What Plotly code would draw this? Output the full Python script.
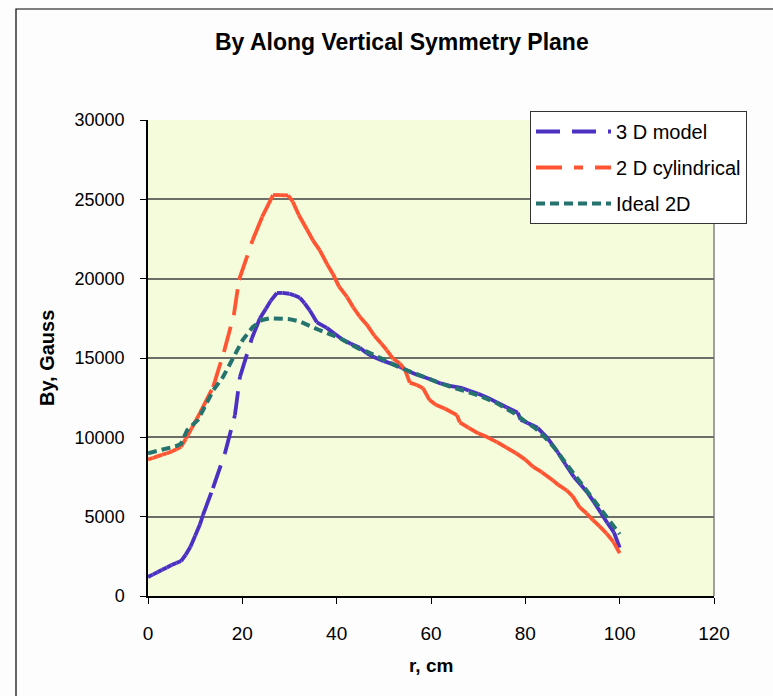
import plotly.graph_objects as go

# r in cm, By in Gauss
r_3d = [0, 1, 2, 3, 4, 5, 6, 7, 8, 9, 10, 11, 11.65, 13.77, 16.31, 18.43, 19.49, 22.03, 23.73,
        25, 26, 27.33, 28.5, 30, 31, 32.2, 33.2, 34.3, 35.8, 37.9, 39.5, 41.3, 43, 44.9, 46.4,
        48, 50, 52, 53.4, 55, 57, 58.5, 60.4, 62, 64, 66.7, 68, 70, 72, 74, 76, 78.4, 79, 80.5,
        82.6, 84.7, 86.9, 88.5, 90.3, 91.8, 93.2, 94.6, 96, 97.4, 98.8, 100]
by_3d = [1200, 1350, 1500, 1650, 1800, 1950, 2080, 2200, 2600, 3100, 3800, 4500, 5100, 6800,
         9000, 11400, 13800, 16250, 17500, 18100, 18600, 19100, 19100, 19050, 18950, 18800,
         18450, 18000, 17250, 16900, 16550, 16150, 15900, 15650, 15300, 15050, 14800, 14600,
         14450, 14200, 13950, 13800, 13600, 13400, 13250, 13100, 12950, 12750, 12500, 12200,
         11900, 11550, 11100, 10900, 10600, 9950, 9050, 8300, 7500, 7000, 6500, 5900, 5250,
         4600, 4000, 3050]

r_cyl = [0, 1, 2, 3, 4, 5, 6, 7, 8, 9.3, 11.0, 13.8, 16.1, 18.2, 19.3, 22.2, 24.2, 26.5, 28,
         29.7, 30.7, 32, 33.7, 35, 36.4, 38, 39.2, 40.5, 42.2, 43.5, 44.9, 46.4, 48, 49.5, 50.6,
         52, 53.4, 54.5, 55.5, 57, 58.3, 59.7, 61, 63, 65.5, 66.1, 68, 70, 72, 74, 76, 78, 80,
         81.6, 83.5, 85.8, 87, 88.8, 90, 91.5, 93, 94.3, 95.7, 97.2, 98.7, 100]
by_cyl = [8600, 8700, 8800, 8900, 9000, 9100, 9250, 9400, 9900, 10600, 11530, 13170, 15380,
          17710, 19920, 22440, 23890, 25270, 25270, 25250, 24850, 24000, 23100, 22400, 21800,
          20900, 20300, 19500, 18850, 18200, 17600, 17100, 16400, 15900, 15500, 14950, 14650,
          14250, 13450, 13300, 13100, 12350, 12050, 11800, 11400, 10950, 10600, 10250, 10000,
          9700, 9350, 9000, 8600, 8150, 7800, 7300, 7000, 6650, 6300, 5600, 5200, 4800, 4400,
          3950, 3400, 2700]

r_ideal = [0, 2, 4, 6, 7, 8.3, 10.6, 12.5, 13.8, 15.9, 16.7, 18.4, 20.1, 22.2, 24.2, 25.8, 28,
           30, 32.2, 34, 36.4, 38.5, 40.7, 43, 44.9, 46.4, 48, 50, 52, 53.4, 56, 58, 60, 62,
           64.6, 67, 70, 72, 74, 76, 78, 80, 82, 84, 86, 88, 90, 92, 94, 96, 98, 100]
by_ideal = [9000, 9150, 9300, 9450, 9600, 10450, 11100, 12200, 12950, 13800, 14250, 15300,
            16150, 16950, 17400, 17500, 17500, 17450, 17300, 17050, 16750, 16500, 16250, 15850,
            15550, 15400, 15150, 14900, 14600, 14400, 14100, 13850, 13600, 13400, 13150, 12950,
            12650, 12400, 12150, 11800, 11450, 11000, 10600, 10050, 9400, 8600, 7800, 7000,
            6200, 5400, 4600, 3900]

x_ticks = [0, 20, 40, 60, 80, 100, 120]
y_ticks = [0, 5000, 10000, 15000, 20000, 25000, 30000]

FONT = "Liberation Sans, Arial, sans-serif"


def per_segment(xs, ys):
    """Split a polyline into separate two-point pieces so the dash pattern restarts
    at every data point (long pieces show gaps, short pieces look solid)."""
    sx, sy = [], []
    for i in range(len(xs) - 1):
        sx += [xs[i], xs[i + 1], None]
        sy += [ys[i], ys[i + 1], None]
    return sx, sy


fig = go.Figure()

x3, y3 = per_segment(r_3d, by_3d)
fig.add_trace(go.Scatter(
    x=x3, y=y3, mode="lines", name="3 D model", legendgroup="a",
    line=dict(color="#4B30C2", width=3.8, dash="24px,12px"), connectgaps=False,
))

xc, yc = per_segment(r_cyl, by_cyl)
fig.add_trace(go.Scatter(
    x=xc, y=yc, mode="lines", name="2 D cylindrical", legendgroup="b",
    line=dict(color="#FF5533", width=3.8, dash="26px,12px,9px,12px"), connectgaps=False,
))

fig.add_trace(go.Scatter(
    x=r_ideal, y=by_ideal, mode="lines", name="Ideal 2D", legendgroup="c",
    line=dict(color="#25736E", width=4, dash="9px,5px"),
))

W, H = 773, 696
L, R, T, B = 148, 59, 120, 100
pw, ph = W - L - R, H - T - B


def px_x(p):
    return (p - L) / pw


def px_y(p):
    return (H - B - p) / ph


fig.update_layout(
    width=W, height=H,
    margin=dict(l=L, r=R, t=T, b=B, pad=0),
    paper_bgcolor="#FDFDFD",
    plot_bgcolor="#F4FCDC",
    font=dict(family=FONT, size=18, color="#000000"),
    showlegend=True,
    legend=dict(
        x=px_x(530), y=px_y(111), xanchor="left", yanchor="top",
        bgcolor="#FFFFFF", bordercolor="#333333", borderwidth=1,
        font=dict(family=FONT, size=20, color="#000000"),
        itemwidth=75, tracegroupgap=7, traceorder="grouped",
    ),
    xaxis=dict(
        range=[0, 120], tickvals=x_ticks, ticktext=[str(v) for v in x_ticks],
        showgrid=False, zeroline=False,
        showline=True, linecolor="#000000", linewidth=1.5,
        ticks="outside", ticklen=6, tickcolor="#000000", tickwidth=1,
        ticklabelstandoff=13, tickfont=dict(size=19),
    ),
    yaxis=dict(
        range=[0, 30000], tickvals=y_ticks, ticktext=[str(v) for v in y_ticks],
        showgrid=True, gridcolor="#6E6E68", gridwidth=1.5, zeroline=False,
        showline=True, linecolor="#000000", linewidth=1.5,
        ticks="outside", ticklen=6, tickcolor="#000000", tickwidth=1,
        ticklabelstandoff=12, tickfont=dict(size=18),
    ),
    shapes=[
        # plot-area frame (right edge)
        dict(type="line", xref="paper", yref="paper", x0=1, x1=1, y0=0, y1=1,
             line=dict(color="#808080", width=1.5), layer="below"),
        # chart-area border
        dict(type="rect", xref="paper", yref="paper",
             x0=px_x(16), x1=px_x(800), y0=px_y(720), y1=px_y(9),
             line=dict(color="#000000", width=1.2), fillcolor="rgba(0,0,0,0)"),
    ],
    annotations=[
        dict(text="<b>By Along Vertical Symmetry Plane</b>", xref="paper", yref="paper",
             x=px_x(402), y=px_y(42), xanchor="center", yanchor="middle", showarrow=False,
             font=dict(family=FONT, size=23, color="#000000")),
        dict(text="<b>By, Gauss</b>", xref="paper", yref="paper", textangle=-90,
             x=px_x(47), y=px_y(358), xanchor="center", yanchor="middle", showarrow=False,
             font=dict(family=FONT, size=20, color="#000000")),
        dict(text="<b>r, cm</b>", xref="paper", yref="paper",
             x=px_x(431), y=px_y(665), xanchor="center", yanchor="middle", showarrow=False,
             font=dict(family=FONT, size=19, color="#000000")),
    ],
)

fig.write_html("out.html")
